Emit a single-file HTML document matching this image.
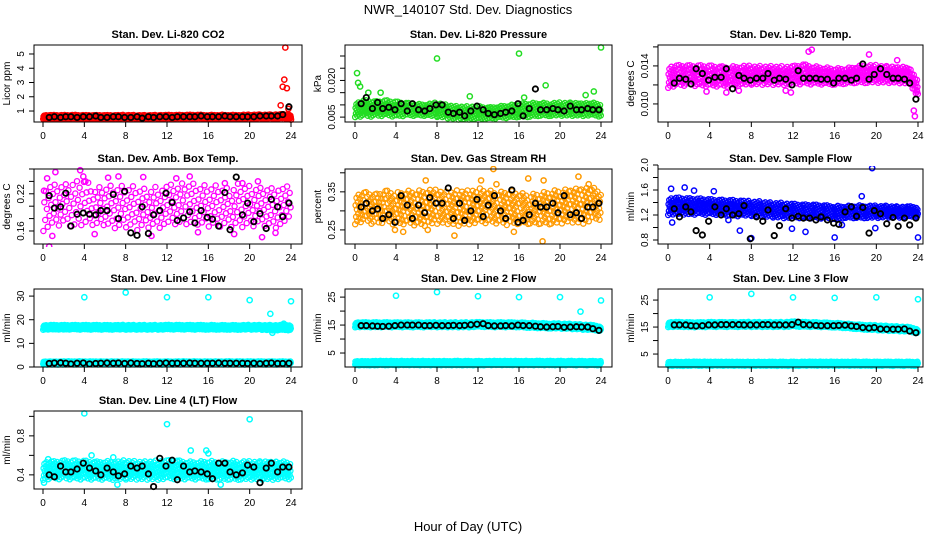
<!DOCTYPE html>
<html><head><meta charset="utf-8"><style>
html,body{margin:0;padding:0;background:#fff;}
svg{display:block;font-family:"Liberation Sans",Arial,sans-serif;}
</style></head><body>
<svg id="chart" width="936" height="540" viewBox="0 0 936 540">
<text x="468" y="14" text-anchor="middle" font-size="13">NWR_140107  Std. Dev. Diagnostics</text>
<text x="468" y="531" text-anchor="middle" font-size="13">Hour of Day (UTC)</text>
</svg>
<script>
// ---- data ----
const hours = [0,1,2,3,4,5,6,7,8,9,10,11,12,13,14,15,16,17,18,19,20,21,22,23,24];
const xTicks = [0,4,8,12,16,20,24];
const blackHours = [0.6,1.1,1.7,2.2,2.7,3.3,3.9,4.5,5.1,5.6,6.2,6.8,7.3,7.9,8.5,9.1,9.6,10.2,10.7,11.3,11.9,12.5,13.0,13.6,14.2,14.7,15.3,15.9,16.4,17.0,17.6,18.1,18.7,19.3,19.8,20.4,21.0,21.6,22.1,22.7,23.2,23.8];

const titles = ["Stan. Dev. Li-820 CO2","Stan. Dev. Li-820 Pressure","Stan. Dev. Li-820 Temp.","Stan. Dev. Amb. Box Temp.","Stan. Dev. Gas Stream RH","Stan. Dev. Sample Flow","Stan. Dev. Line 1 Flow","Stan. Dev. Line 2 Flow","Stan. Dev. Line 3 Flow","Stan. Dev. Line 4 (LT) Flow"];
const yTitles = ["Licor ppm","kPa","degrees C","degrees C","percent","ml/min","ml/min","ml/min","ml/min","ml/min"];

const yTicks = [[1,2,3,4,5],[0.005,0.010,0.015,0.020,0.025,0.030],[0.010,0.012,0.014,0.016],[0.16,0.18,0.20,0.22,0.24,0.26],[0.25,0.30,0.35,0.40],[0.8,1.0,1.2,1.4,1.6,1.8,2.0],[0,10,20,30],[5,10,15,20,25],[5,10,15,20,25],[0.4,0.6,0.8,1.0]];
const yTickLabels = [["1","2","3","4","5"],["0.005","","","0.020","",""],["0.010","","0.014",""],["0.16","","","0.22","",""],["0.25","","0.35",""],["0.8","","1.2","","1.6","","2.0"],["0","10","20","30"],["5","","15","","25"],["5","","15","","25"],["0.4","","0.8",""]];
const yDomains = [[0.23,5.63],[0.003,0.0345],[0.0081,0.0162],[0.139,0.26],[0.213,0.41],[0.736,1.936],[0,33],[0,27.9],[0.2,29.1],[0.255,1.055]];
const colors = ["#ff0000","#22dd22","#ff00ff","#ff00ff","#ff9a00","#0000ff","#00ffff","#00ffff","#00ffff","#00ffff"];

// colored band lower/upper per hour
const co2Lo = [0.45,0.45,0.45,0.45,0.45,0.45,0.45,0.45,0.45,0.45,0.45,0.45,0.45,0.45,0.45,0.45,0.45,0.45,0.45,0.45,0.45,0.45,0.45,0.45,0.45];
const co2Hi = [0.72,0.72,0.72,0.73,0.72,0.72,0.72,0.72,0.73,0.72,0.72,0.73,0.73,0.73,0.74,0.74,0.73,0.74,0.74,0.74,0.75,0.76,0.76,0.78,0.75];
const presLo = [0.0050,0.0050,0.0050,0.0055,0.0050,0.0055,0.0055,0.0055,0.0050,0.0045,0.0040,0.0040,0.0040,0.0040,0.0045,0.0045,0.0050,0.0050,0.0055,0.0055,0.0055,0.0055,0.0055,0.0055,0.0050];
const presHi = [0.0110,0.0120,0.0115,0.0120,0.0115,0.0110,0.0105,0.0105,0.0110,0.0100,0.0095,0.0095,0.0095,0.0090,0.0095,0.0100,0.0105,0.0110,0.0110,0.0110,0.0110,0.0110,0.0110,0.0110,0.0105];
const tempLo = [0.0117,0.0118,0.0119,0.0118,0.0118,0.0118,0.0118,0.0119,0.0120,0.0120,0.0120,0.0120,0.0120,0.0120,0.0120,0.0120,0.0120,0.0121,0.0122,0.0122,0.0122,0.0122,0.0122,0.0121,0.0108];
const tempHi = [0.0140,0.0141,0.0141,0.0141,0.0141,0.0140,0.0140,0.0141,0.0140,0.0140,0.0140,0.0140,0.0140,0.0142,0.0140,0.0139,0.0138,0.0138,0.0140,0.0142,0.0141,0.0140,0.0140,0.0140,0.0126];
const ambLo = [0.16,0.16,0.165,0.16,0.165,0.165,0.165,0.16,0.165,0.16,0.165,0.165,0.165,0.165,0.165,0.165,0.165,0.165,0.165,0.165,0.165,0.17,0.165,0.165,0.17];
const ambHi = [0.235,0.235,0.235,0.24,0.245,0.23,0.235,0.235,0.235,0.235,0.23,0.235,0.235,0.235,0.24,0.235,0.235,0.235,0.23,0.24,0.235,0.235,0.235,0.235,0.23];
const rhLo = [0.265,0.27,0.26,0.27,0.26,0.265,0.26,0.26,0.265,0.265,0.26,0.265,0.265,0.265,0.265,0.26,0.265,0.265,0.265,0.265,0.265,0.27,0.265,0.27,0.275];
const rhHi = [0.345,0.35,0.345,0.355,0.35,0.355,0.355,0.36,0.355,0.35,0.355,0.355,0.36,0.355,0.35,0.355,0.35,0.345,0.35,0.355,0.36,0.36,0.365,0.365,0.35];
const sfLo = [1.20,1.20,1.20,1.20,1.20,1.20,1.18,1.18,1.18,1.17,1.16,1.15,1.15,1.14,1.14,1.14,1.13,1.15,1.15,1.15,1.15,1.16,1.16,1.16,1.16];
const sfHi = [1.48,1.48,1.47,1.47,1.46,1.45,1.45,1.44,1.42,1.42,1.40,1.40,1.38,1.37,1.37,1.36,1.35,1.35,1.36,1.36,1.35,1.35,1.34,1.34,1.33];
const l1HiLo = [15.8,15.8,15.8,15.8,15.8,15.8,15.8,15.8,15.8,15.8,15.8,15.8,15.8,15.8,15.8,15.8,15.8,15.8,15.8,15.8,15.8,15.8,15.5,15.5,15.5];
const l1HiHi = [17.8,17.8,17.8,17.8,17.8,17.8,17.8,17.8,17.8,17.8,17.8,17.8,17.8,17.8,17.8,17.8,17.8,17.8,17.8,17.8,17.8,17.8,17.8,17.8,17.8];
const l1LoLo = [1.0,1.0,1.0,1.0,1.0,1.0,1.0,1.0,1.0,1.0,1.0,1.0,1.0,1.0,1.0,1.0,1.0,1.0,1.0,1.0,1.0,1.0,1.0,1.0,1.0];
const l1LoHi = [2.4,2.4,2.4,2.4,2.4,2.4,2.4,2.4,2.4,2.4,2.4,2.4,2.4,2.4,2.4,2.4,2.4,2.4,2.4,2.4,2.4,2.4,2.4,2.4,2.4];
const l2HiLo = [14.2,14.2,14.2,14.2,14.2,14.2,14.2,14.2,14.2,14.2,14.2,14.2,14.3,14.2,14.2,14.2,14.2,14.0,13.9,13.8,13.7,13.6,13.4,13.2,12.8];
const l2HiHi = [16.0,16.0,16.0,16.0,16.0,16.0,16.0,16.0,16.0,16.0,16.0,16.0,16.1,16.0,16.0,16.0,16.0,15.9,15.8,15.7,15.6,15.5,15.3,15.1,14.5];
const l2LoLo = [0.6,0.6,0.6,0.6,0.6,0.6,0.6,0.6,0.6,0.6,0.6,0.6,0.6,0.6,0.6,0.6,0.6,0.6,0.6,0.6,0.6,0.6,0.6,0.6,0.6];
const l2LoHi = [2.2,2.2,2.2,2.2,2.2,2.2,2.2,2.2,2.2,2.2,2.2,2.2,2.2,2.2,2.2,2.2,2.2,2.2,2.2,2.2,2.2,2.2,2.2,2.2,2.2];
const l3HiLo = [15.0,15.0,14.9,14.9,15.0,15.0,15.0,15.0,15.0,15.0,15.0,15.0,15.1,15.0,15.0,14.9,14.8,14.6,14.3,14.0,13.8,13.6,13.5,13.3,12.6];
const l3HiHi = [16.9,16.9,16.8,16.8,16.9,16.9,16.9,16.9,16.9,16.9,16.9,16.9,17.1,16.9,16.8,16.7,16.6,16.4,16.1,15.9,15.7,15.5,15.3,15.1,14.3];
const l3LoLo = [0.6,0.6,0.6,0.6,0.6,0.6,0.6,0.6,0.6,0.6,0.6,0.6,0.6,0.6,0.6,0.6,0.6,0.6,0.6,0.6,0.6,0.6,0.6,0.6,0.6];
const l3LoHi = [2.2,2.2,2.2,2.2,2.2,2.2,2.2,2.2,2.2,2.2,2.2,2.2,2.2,2.2,2.2,2.2,2.2,2.2,2.2,2.2,2.2,2.2,2.2,2.2,2.2];
const l4Lo = [0.35,0.35,0.35,0.35,0.35,0.35,0.35,0.35,0.35,0.35,0.35,0.35,0.35,0.35,0.35,0.35,0.35,0.35,0.35,0.35,0.35,0.35,0.35,0.35,0.35];
const l4Hi = [0.54,0.54,0.55,0.55,0.55,0.54,0.55,0.54,0.55,0.54,0.54,0.55,0.55,0.55,0.54,0.54,0.55,0.54,0.55,0.55,0.54,0.54,0.55,0.54,0.53];

// outliers (x hours, y values)
const co2OutX = [23.0,23.2,23.35,23.45,23.6,23.75,24.0];
const co2OutY = [1.4,2.7,3.2,5.45,2.6,1.15,0.4];
const presOutX = [0.2,0.3,0.5,1.3,2.5,8.0,11.2,16.0,16.5,18.6,22.5,23.3,24.0];
const presOutY = [0.0230,0.0190,0.0175,0.0150,0.0150,0.0290,0.0135,0.0310,0.0130,0.0180,0.0140,0.0155,0.0335];
const tempOutX = [3.7,5.6,6.8,11.3,11.8,13.5,13.8,19.3,22.0,23.6,23.7,23.9];
const tempOutY = [0.0113,0.0112,0.0114,0.0114,0.0112,0.0155,0.0157,0.0152,0.0146,0.0093,0.0087,0.0113];
const ambOutX = [0.1,0.4,0.6,0.9,1.2,3.6,3.9,4.1,6.3,7.3,9.7,12.9,14.2,17.6,19.3,20.8,21.2,5.0,10.5,15.0,18.5,22.5];
const ambOutY = [0.225,0.245,0.135,0.152,0.255,0.258,0.248,0.240,0.246,0.248,0.247,0.245,0.248,0.237,0.237,0.240,0.15,0.155,0.152,0.158,0.155,0.157];
const rhOutX = [3.9,4.7,6.9,7.1,9.7,12.3,13.5,13.8,15.5,16.9,18.3,18.4,21.8,22.8];
const rhOutY = [0.25,0.245,0.38,0.25,0.235,0.38,0.41,0.37,0.245,0.385,0.22,0.38,0.39,0.37];
const sfOutX = [0.3,0.4,1.6,2.5,4.4,5.8,6.9,8.0,11.9,13.2,16.0,16.7,18.6,19.6,19.9,24.0];
const sfOutY = [1.62,1.08,1.64,1.59,1.58,1.12,0.95,0.83,0.98,0.93,0.84,1.04,1.50,1.95,0.99,0.84];
const l1OutX = [4,8,12,16,20,22,22.2,23.3,24.0];
const l1OutY = [29.5,31.5,29.5,29.5,28.3,22.5,14.5,18.3,27.8];
const l2OutX = [4,8,12,16,20,22,24];
const l2OutY = [25.5,26.8,25.3,25,25,19.8,23.8];
const l3OutX = [4,8,12,16,20,24];
const l3OutY = [26,27.3,26,25.8,26,25.3];
const l4OutX = [0.1,0.5,4.0,4.7,6.8,12.0,14.3,15.8,16.0,20.0,17.2,7.2];
const l4OutY = [0.32,0.56,1.03,0.60,0.58,0.92,0.65,0.65,0.62,0.97,0.30,0.30];

// black series values at blackHours
const co2Black = [0.55,0.6,0.55,0.6,0.6,0.55,0.6,0.6,0.65,0.55,0.55,0.6,0.6,0.55,0.55,0.6,0.5,0.6,0.55,0.6,0.6,0.55,0.6,0.6,0.6,0.6,0.65,0.6,0.6,0.6,0.65,0.6,0.6,0.6,0.6,0.6,0.65,0.65,0.65,0.65,0.75,1.3];
const presBlack = [0.0105,0.013,0.0085,0.011,0.0085,0.0090,0.0080,0.0105,0.0075,0.0105,0.0080,0.0075,0.0085,0.0100,0.0100,0.0070,0.0065,0.0070,0.0055,0.0075,0.0095,0.0080,0.0065,0.0060,0.0065,0.0070,0.0075,0.0105,0.0055,0.0085,0.0165,0.0080,0.0080,0.0085,0.0080,0.0075,0.0095,0.0080,0.0080,0.0085,0.0080,0.0080];
const tempBlack = [0.0122,0.0127,0.0126,0.0121,0.0137,0.0132,0.0125,0.0128,0.0128,0.0137,0.0116,0.0130,0.0127,0.0125,0.0127,0.0127,0.0132,0.0125,0.0127,0.0126,0.0120,0.0135,0.0127,0.0127,0.0127,0.0126,0.0126,0.0122,0.0127,0.0127,0.0125,0.0127,0.0142,0.0126,0.0131,0.0137,0.0131,0.0127,0.0127,0.0126,0.0122,0.0105];
const ambBlack = [0.217,0.197,0.199,0.221,0.168,0.187,0.189,0.187,0.186,0.193,0.193,0.219,0.180,0.224,0.157,0.153,0.199,0.156,0.186,0.193,0.221,0.206,0.177,0.181,0.191,0.173,0.193,0.182,0.179,0.168,0.222,0.162,0.247,0.186,0.205,0.175,0.188,0.164,0.211,0.199,0.183,0.205];
const rhBlack = [0.31,0.32,0.30,0.305,0.28,0.29,0.27,0.34,0.315,0.28,0.315,0.295,0.335,0.32,0.32,0.36,0.28,0.32,0.275,0.30,0.33,0.285,0.315,0.34,0.30,0.28,0.355,0.27,0.275,0.29,0.32,0.31,0.31,0.32,0.295,0.34,0.29,0.295,0.28,0.31,0.31,0.32];
const sfBlack = [1.3,1.17,1.33,1.25,0.95,0.88,1.1,1.33,1.2,1.30,1.2,1.22,1.35,0.82,1.17,1.10,1.28,0.87,1.03,1.30,1.15,1.18,1.15,1.15,1.12,1.17,1.12,1.07,1.05,1.25,1.33,1.18,1.32,0.91,1.27,1.22,1.06,1.16,1.02,1.15,1.04,1.15];
const l1Black = [1.5,1.7,1.8,1.6,1.3,1.6,1.7,1.3,1.5,1.6,1.7,1.6,1.7,1.5,1.7,1.5,1.4,1.6,1.4,1.6,1.7,1.6,1.6,1.6,1.7,1.6,1.6,1.6,1.6,1.7,1.6,1.6,1.6,1.6,1.5,1.6,1.4,1.6,1.7,1.5,1.5,1.6];
const l2Black = [14.8,14.8,14.7,14.6,14.5,14.6,14.8,15.0,15.0,15.0,15.0,14.8,14.8,14.9,14.8,14.8,14.9,14.8,14.9,15.1,15.3,15.5,14.8,14.7,14.7,14.8,14.7,15.0,14.8,14.8,14.6,14.4,14.3,14.4,14.5,14.2,14.3,14.4,14.3,14.3,13.7,13.1];
const l3Black = [15.8,15.8,15.8,15.5,15.4,15.5,15.8,15.8,15.9,15.9,15.9,15.9,15.8,15.8,15.8,15.9,15.9,15.8,15.8,15.8,15.9,16.8,15.9,15.8,15.6,15.5,15.5,15.5,15.6,15.7,15.4,15.2,14.8,14.6,14.8,14.3,14.2,14.2,14.2,14.3,13.5,12.9];
const l4Black = [0.40,0.38,0.49,0.43,0.43,0.46,0.52,0.47,0.44,0.40,0.47,0.43,0.39,0.41,0.49,0.47,0.49,0.41,0.28,0.57,0.49,0.55,0.35,0.49,0.43,0.44,0.43,0.41,0.36,0.52,0.52,0.43,0.40,0.42,0.50,0.48,0.32,0.47,0.52,0.43,0.48,0.48];

const bandLo = [[co2Lo],[presLo],[tempLo],[ambLo],[rhLo],[sfLo],[l1HiLo,l1LoLo],[l2HiLo,l2LoLo],[l3HiLo,l3LoLo],[l4Lo]];
const bandHi = [[co2Hi],[presHi],[tempHi],[ambHi],[rhHi],[sfHi],[l1HiHi,l1LoHi],[l2HiHi,l2LoHi],[l3HiHi,l3LoHi],[l4Hi]];
const outX = [co2OutX,presOutX,tempOutX,ambOutX,rhOutX,sfOutX,l1OutX,l2OutX,l3OutX,l4OutX];
const outY = [co2OutY,presOutY,tempOutY,ambOutY,rhOutY,sfOutY,l1OutY,l2OutY,l3OutY,l4OutY];
const blackY = [co2Black,presBlack,tempBlack,ambBlack,rhBlack,sfBlack,l1Black,l2Black,l3Black,l4Black];

// ---- layout ----
const NS = "http://www.w3.org/2000/svg";
const svg = document.getElementById('chart');
const colBox = [[34,302],[345,612],[658,923]];
const colX = [[43,291],[355,601],[668,918]];
const rowBox = [[45,122],[169,244],[289,367],[411,489]];
const density = [28,26,26,12,24,28,28,28,28,26];

function mk(tag, attrs, parent){
  const e = document.createElementNS(NS, tag);
  for (const k in attrs) e.setAttribute(k, attrs[k]);
  parent.appendChild(e);
  return e;
}

for (let p = 0; p < 10; p++) {
  const c = p % 3, r = Math.floor(p / 3);
  const [bl, br] = colBox[c], [bt, bb] = rowBox[r];
  const [x0, x24] = colX[c];
  const [ymin, ymax] = yDomains[p];
  const xs = h => x0 + h / 24 * (x24 - x0);
  const ys = v => bb - (v - ymin) / (ymax - ymin) * (bb - bt);

  const g = mk('g', {}, svg);
  
  

  const clipId = 'clip' + p;
  const cp = mk('clipPath', {id: clipId}, g);
  mk('rect', {x: bl, y: bt - 3, width: br - bl, height: bb - bt + 6}, cp);

  const t = mk('text', {x: (bl + br) / 2, y: bt - 7, 'text-anchor': 'middle', 'font-size': '11', 'font-weight': 'bold'}, g);
  
  
  t.textContent = titles[p];

  const pts = mk('g', {fill: 'none', 'clip-path': 'url(#' + clipId + ')'}, g);
  
  
  const col = colors[p];
  for (let b = 0; b < bandLo[p].length; b++) {
    const lo = bandLo[p][b], hi = bandHi[p][b];
    const n = density[p];
    for (let i = 0; i < hours.length - 1; i++) {
      for (let k = 0; k < n; k++) {
        const fx = (k + 0.5) / n;
        const fy = ((k * 0.618034 + i * 0.377 + b * 0.21) % 1);
        const l = lo[i] + (lo[i + 1] - lo[i]) * fx;
        const h = hi[i] + (hi[i + 1] - hi[i]) * fx;
        const cEl = mk('circle', {cx: xs(hours[i] + fx).toFixed(1), cy: ys(l + fy * (h - l)).toFixed(1), r: 2.6, stroke: col, 'stroke-width': 1.3}, pts);
        
        
      }
    }
  }
  for (let i = 0; i < outX[p].length; i++) {
    const cEl = mk('circle', {cx: xs(outX[p][i]), cy: ys(outY[p][i]), r: 2.6, stroke: col, 'stroke-width': 1.5}, pts);
    
    
  }
  for (let i = 0; i < blackHours.length; i++) {
    const cEl = mk('circle', {cx: xs(blackHours[i]), cy: ys(blackY[p][i]), r: 2.7, stroke: '#000', 'stroke-width': 1.8}, pts);
    
    
  }

  const box = mk('rect', {x: bl, y: bt, width: br - bl, height: bb - bt, fill: 'none', stroke: '#000', 'stroke-width': 1}, g);
  
  

  const xa = mk('g', {'font-size': '10'}, g);
  
  
  mk('line', {x1: xs(0), x2: xs(24), y1: bb, y2: bb, stroke: '#000'}, xa);
  xTicks.forEach(v => {
    mk('line', {x1: xs(v), x2: xs(v), y1: bb, y2: bb + 5, stroke: '#000'}, xa);
    const tl = mk('text', {x: xs(v), y: bb + 17, 'text-anchor': 'middle'}, xa);
    
    
    tl.textContent = v;
  });

  const ya = mk('g', {'font-size': '10'}, g);
  
  
  const tk = yTicks[p];
  mk('line', {x1: bl, x2: bl, y1: ys(tk[0]), y2: ys(tk[tk.length - 1]), stroke: '#000'}, ya);
  tk.forEach((v, i) => {
    const y = ys(v);
    mk('line', {x1: bl - 5, x2: bl, y1: y, y2: y, stroke: '#000'}, ya);
    if (yTickLabels[p][i]) {
      const tx = bl - 10;
      const tl = mk('text', {x: tx, y: y, 'text-anchor': 'middle', transform: 'rotate(-90 ' + tx + ' ' + y + ')'}, ya);
      
      
      tl.textContent = yTickLabels[p][i];
    }
  });
  const ty = (bt + bb) / 2, txx = bl - 24;
  const yt = mk('text', {x: txx, y: ty, 'text-anchor': 'middle', 'font-size': '10', transform: 'rotate(-90 ' + txx + ' ' + ty + ')'}, g);
  
  
  yt.textContent = yTitles[p];
}
</script>
</body></html>
